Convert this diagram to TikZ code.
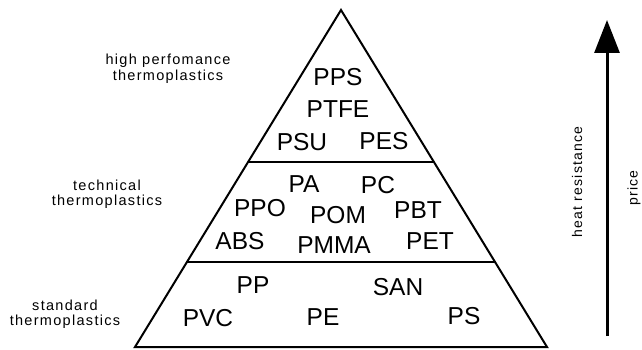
\documentclass[tikz,border=0pt]{standalone}
\usepackage{fontspec}
\setmainfont{Liberation Sans}
\newfontfamily\labfont[LetterSpace=9]{Liberation Sans}
\usetikzlibrary{arrows.meta}
\tikzset{
  poly/.style={font=\fontsize{24.5}{26}\selectfont, inner sep=0pt},
  tier/.style={font=\labfont\fontsize{14.5}{15.5}\selectfont, align=center, inner sep=0pt},
  axislab/.style={font=\labfont\fontsize{14}{15}\selectfont, rotate=90, inner sep=0pt},
  edge/.style={line width=2pt, line join=miter},
}
\begin{document}
\begin{tikzpicture}[x=1pt,y=-1pt]
\useasboundingbox (0,0) rectangle (642,350);
% pyramid
\coordinate (apex) at (341,10);
\coordinate (bl) at (135,347);
\coordinate (br) at (547,347);
\coordinate (l1a) at (248,162);
\coordinate (l1b) at (434,162);
\coordinate (l2a) at (187,262);
\coordinate (l2b) at (495,262);
\draw[edge] (apex) -- (br) -- (bl) -- cycle;
\draw[edge] (l1a) -- (l1b);
\draw[edge] (l2a) -- (l2b);
% high performance
\node[poly] (pps) at (338,77) {PPS};
\node[poly] (ptfe) at (338,109) {PTFE};
\node[poly] (psu) at (302,142) {PSU};
\node[poly] (pes) at (384,141) {PES};
% technical
\node[poly] (pa) at (304,184) {PA};
\node[poly] (pc) at (378,185) {PC};
\node[poly] (ppo) at (260,208) {PPO};
\node[poly] (pom) at (338,215) {POM};
\node[poly] (pbt) at (418,210) {PBT};
\node[poly] (abs) at (240,241) {ABS};
\node[poly] (pmma) at (334,245) {PMMA};
\node[poly] (pet) at (430,241) {PET};
% standard
\node[poly] (pp) at (253,285) {PP};
\node[poly] (san) at (398,287) {SAN};
\node[poly] (pvc) at (208,318) {PVC};
\node[poly] (pe) at (323,317) {PE};
\node[poly] (ps) at (464,316) {PS};
% tier labels
\node[tier] (hp) at (168,69) {high perfomance\\thermoplastics};
\node[tier] (tech) at (107,194) {technical\\thermoplastics};
\node[tier] (std) at (65,314) {standard\\thermoplastics};
% arrow
\coordinate (abot) at (607,336);
\coordinate (atop) at (607,20);
\draw[line width=3pt, -{Triangle[length=33pt,width=25pt]}] (abot) -- (atop);
\node[axislab] (heat) at (577,182) {heat resistance};
\node[axislab] (price) at (634,188) {price};
\end{tikzpicture}
\end{document}
